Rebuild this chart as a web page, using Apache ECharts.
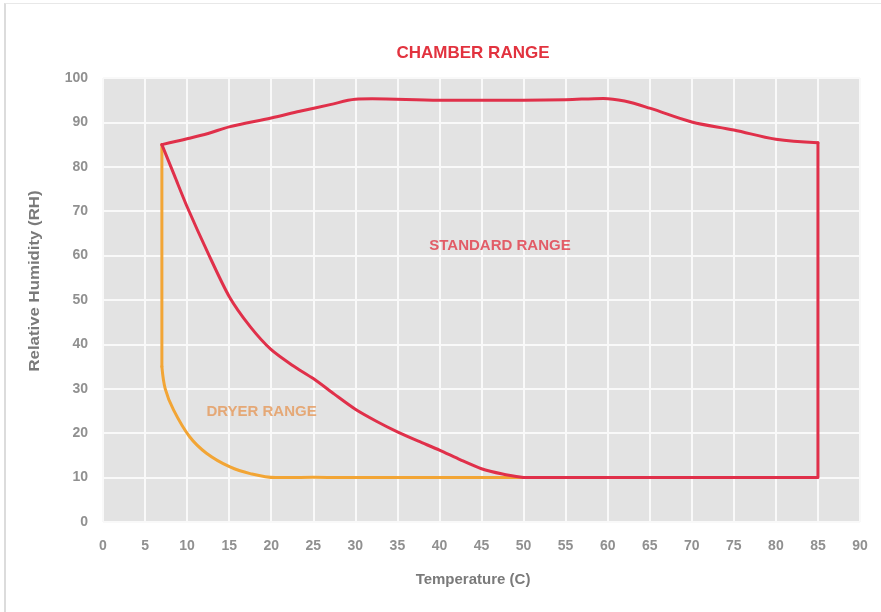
<!DOCTYPE html>
<html>
<head>
<meta charset="utf-8">
<script src="https://cdn.jsdelivr.net/npm/echarts@6/dist/echarts.min.js"></script>
<style>
html,body{margin:0;padding:0;background:#fff;}
#frame{position:absolute;left:4px;top:3px;width:877px;height:609px;border-left:2px solid #dcdcdc;border-top:1px solid #e8e8e8;box-sizing:border-box;}
#chart{position:absolute;left:0;top:0;width:881px;height:612px;}
</style>
</head>
<body>
<div id="frame"></div>
<div id="chart"></div>
<script>
// Chamber (standard) range outline, in pieces
const chamberTop = [[7,85],[10,86.3],[12.5,87.5],[15,89],[20,91],[23.4,92.5],[27,94],[30,95.2],[32,95.3],[40,95],[50,95],[55,95.1],[59.5,95.4],[62,94.8],[65,93.2],[70,90.1],[75,88.3],[80,86.2],[85,85.4]];
const chamberEdge = [[85,85.4],[85,10],[50,10]];
const chamberLower = [[50,10],[47.5,10.8],[45,12],[42.5,14],[40,16.2],[37.5,18.2],[35,20.3],[32.5,22.7],[30,25.4],[27.5,28.8],[25,32.3],[22.5,35.3],[20,38.8],[17.5,44],[15,50.8],[12.5,60.5],[10,71],[8.5,78],[7,85]];
// Dryer range outline
const dryerVertical = [[7,85],[7,35]];
const dryerCurve = [[7,35],[7.4,30],[8.4,25.2],[10.3,19.2],[12.3,15.5],[15.1,12.4],[17.5,10.9],[20.5,10],[25,10.1],[30,10],[40,10],[50,10]];
// Region labels
const regionLabels = [
  {name:'STANDARD RANGE', value:[47.2,62.2], color:'#e13a47'},
  {name:'DRYER RANGE', value:[18.85,24.8], color:'#e5995a'}
];
const xTicks = {min:0, max:90, interval:5};
const yTicks = {min:0, max:100, interval:10};

const RED = '#e0304a';
const ORANGE = '#f2a535';
const FONT = '"Liberation Sans", Arial, sans-serif';

const chart = echarts.init(document.getElementById('chart'), null, {renderer:'canvas'});

function lineSeries(data, color, smooth){
  return {type:'line', data:data, smooth:smooth, symbol:'none', silent:true,
    lineStyle:{color:color, width:3, cap:'round', join:'round'}, z:3};
}

chart.setOption({
  animation:false,
  backgroundColor:'transparent',
  grid:{left:103, right:21, top:78, bottom:90, show:true, backgroundColor:'#e3e3e3', borderWidth:0},
  xAxis:{type:'value', min:xTicks.min, max:xTicks.max, interval:xTicks.interval,
    axisLine:{show:false}, axisTick:{show:false},
    splitLine:{show:true, lineStyle:{color:'#f9f9f9', width:2}},
    axisLabel:{color:'#909090', fontSize:14, fontWeight:'bold', fontFamily:FONT, margin:17}},
  yAxis:{type:'value', min:yTicks.min, max:yTicks.max, interval:yTicks.interval,
    axisLine:{show:false}, axisTick:{show:false},
    splitLine:{show:true, lineStyle:{color:'#f9f9f9', width:2}},
    axisLabel:{color:'#909090', fontSize:14, fontWeight:'bold', fontFamily:FONT, margin:15}},
  graphic:[
    {type:'text', style:{text:'CHAMBER RANGE', x:473, y:53, textAlign:'center', textVerticalAlign:'middle', fill:'#e2333f', font:'bold 17px '+FONT}},
    {type:'text', style:{text:'Temperature (C)', x:473, y:580, textAlign:'center', textVerticalAlign:'middle', fill:'#7a7a7a', font:'bold 15px '+FONT}},
    {type:'text', x:35, y:281, rotation:Math.PI/2, scaleX:1.12, style:{text:'Relative Humidity (RH)', x:0, y:0, textAlign:'center', textVerticalAlign:'middle', fill:'#7a7a7a', font:'bold 15px '+FONT}}
  ],
  series:[
    lineSeries(dryerVertical, ORANGE, false),
    lineSeries(dryerCurve, ORANGE, 0.35),
    lineSeries(chamberTop, RED, 0.35),
    lineSeries(chamberEdge, RED, false),
    lineSeries(chamberLower, RED, 0.25),
    {type:'scatter', symbolSize:0, silent:true, z:5,
      data:regionLabels.map(d=>({name:d.name, value:d.value,
        label:{show:true, position:'inside', formatter:'{b}', color:d.color, fontSize:15, fontWeight:'bold', fontFamily:FONT}}))}
  ]
});
</script>
</body>
</html>
